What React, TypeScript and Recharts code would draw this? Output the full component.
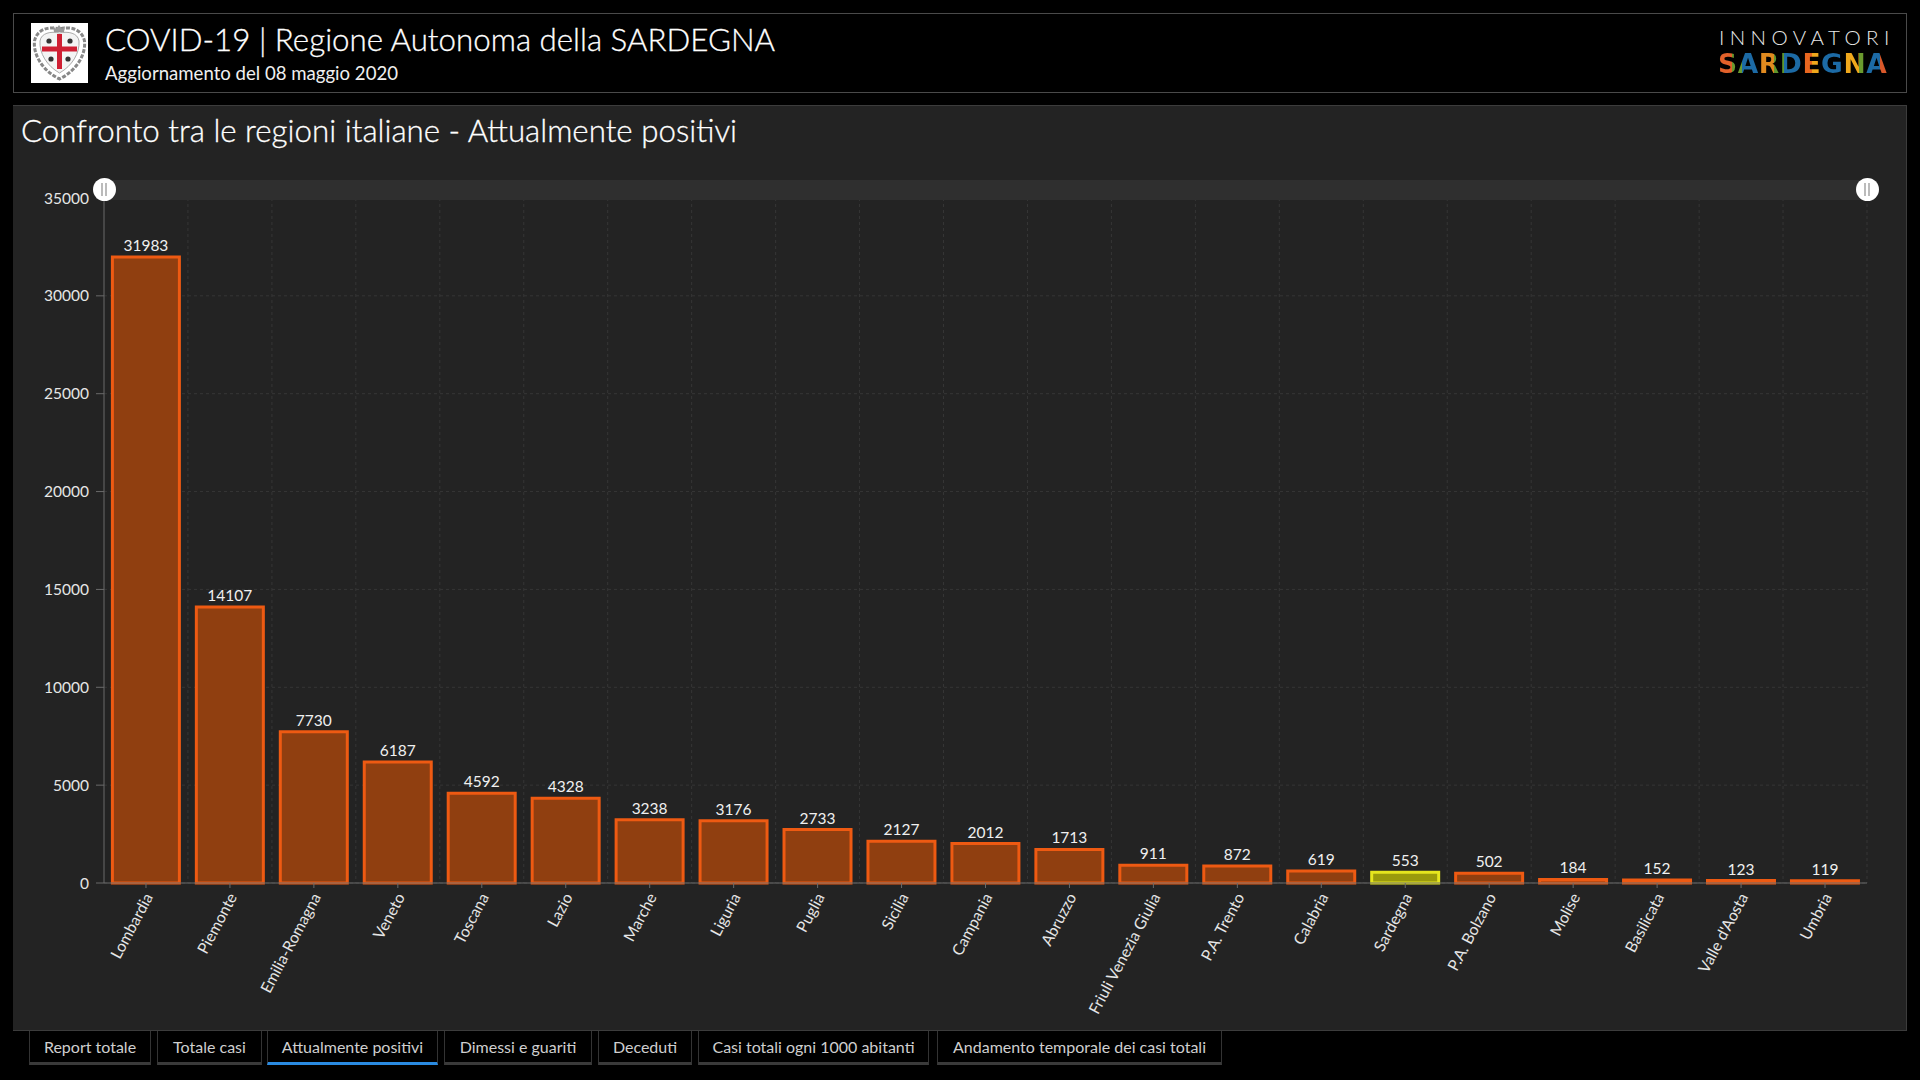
import React from "react";
import { BarChart, Bar, XAxis, YAxis, CartesianGrid, Cell, LabelList } from "recharts";

const regions = ["Lombardia","Piemonte","Emilia-Romagna","Veneto","Toscana","Lazio","Marche","Liguria","Puglia","Sicilia","Campania","Abruzzo","Friuli Venezia Giulia","P.A. Trento","Calabria","Sardegna","P.A. Bolzano","Molise","Basilicata","Valle d'Aosta","Umbria"];
const positives = [31983,14107,7730,6187,4592,4328,3238,3176,2733,2127,2012,1713,911,872,619,553,502,184,152,123,119];
const yTicks = [0,5000,10000,15000,20000,25000,30000,35000];
const highlighted = "Sardegna";
const tabs = ["Report totale","Totale casi","Attualmente positivi","Dimessi e guariti","Deceduti","Casi totali ogni 1000 abitanti","Andamento temporale dei casi totali"];
const tabSpans = [[29,151],[157,262],[267,438],[444,592],[598,692],[698,929],[937,1222]];
const activeTab = "Attualmente positivi";

const data = regions.map((region, i) => ({ region, value: positives[i] }));
const FONT = "Lato, 'Noto Sans', sans-serif";

const abs = (left: number, top: number, width: number, height: number, extra: any = {}) => ({
  position: "absolute" as const, left, top, width, height, boxSizing: "border-box" as const, ...extra,
});

const XTick = (props: any) => {
  const { x, y, payload } = props;
  return (
    <text x={0} y={0} transform={`translate(${x + 4},${y + 5}) rotate(-62)`} textAnchor="end" dominantBaseline="middle" fill="#e6e6e6" fontSize={15.7} fontFamily={FONT}>
      {payload.value}
    </text>
  );
};

const Crest = () => (
  <svg style={abs(31, 23, 57, 60, { display: "block" })} viewBox="0 0 57 60">
    <rect x="0" y="0" width="57" height="60" fill="#fff" />
    <path d="M28.5 6 C18 3 6 6 3.5 18 C2 32 12 48 28.5 56 C45 48 55 32 53.5 18 C51 6 39 3 28.5 6 Z" fill="none" stroke="#888" strokeWidth="3" strokeDasharray="4 1.5" />
    <path d="M28.5 10 C20 8 10 10 9 18 C8 30 16 43 28.5 50 C41 43 49 30 48 18 C47 10 37 8 28.5 10 Z" fill="#f4f4f4" stroke="#aaa" strokeWidth="1" />
    <path d="M26 11 h5 v12.5 h15 v5 h-15 v17.5 h-5 v-17.5 h-15 v-5 h15 Z" fill="#cf1f33" />
    <circle cx="18" cy="18" r="2.6" fill="#333" /><circle cx="39" cy="18" r="2.6" fill="#333" />
    <circle cx="20" cy="36" r="2.6" fill="#333" /><circle cx="37" cy="36" r="2.6" fill="#333" />
    <path d="M22 3 l3 3 l3 -4 l3 4 l3 -3 l-1 6 h-10 Z" fill="#999" />
  </svg>
);

const Handle = ({ cx }: { cx: number }) => (
  <div style={abs(cx - 11.5, 177.5, 23, 23, { background: "#fff", borderRadius: "50%" })}>
    <div style={abs(8.5, 5, 2, 13, { background: "#bbb" })} />
    <div style={abs(12.5, 5, 2, 13, { background: "#bbb" })} />
  </div>
);

export default function App() {
  return (
    <div style={abs(0, 0, 1920, 1080, { background: "#000", overflow: "hidden", fontFamily: FONT, color: "#fff" })}>
      {/* header */}
      <div style={abs(13, 13, 1894, 80, { border: "1px solid #4a4a4a" })} />
      <Crest />
      <div style={{ position: "absolute", left: 105, top: 18, fontSize: 31.3, lineHeight: "42px", whiteSpace: "nowrap", color: "#fff", fontWeight: 300, WebkitTextStroke: "0.3px #fff" }}>COVID-19 | Regione Autonoma della SARDEGNA</div>
      <div style={{ position: "absolute", left: 105, top: 61, fontSize: 18.6, lineHeight: "24px", whiteSpace: "nowrap", color: "#f0f0f0" }}>Aggiornamento del 08 maggio 2020</div>
      <div style={{ position: "absolute", left: 1719, top: 26, fontSize: 20.5, lineHeight: "22px", letterSpacing: "5.4px", fontWeight: 300, whiteSpace: "nowrap", color: "#e8e8e8" }}>INNOVATORI</div>
      <div style={{ position: "absolute", left: 1718, top: 51, width: 174, fontSize: 26.5, lineHeight: "26px", fontWeight: 700, fontFamily: "'DejaVu Sans', sans-serif", whiteSpace: "nowrap",
        background: "linear-gradient(90deg,#e2612a 0 8%,#6a9a2e 8% 14%,#1c6aa5 14% 24%,#e08a1f 24% 32%,#5f962c 32% 38%,#1c6aa5 38% 48%,#e8661f 48% 54%,#f0a81c 54% 60%,#1c6aa5 60% 73%,#f0a81c 73% 81%,#6a9a2e 81% 85%,#1c6aa5 85% 93%,#d9582a 93% 100%)",
        WebkitBackgroundClip: "text", backgroundClip: "text", color: "transparent", letterSpacing: "0.6px" }}>SARDEGNA</div>

      {/* panel */}
      <div style={abs(13, 105, 1894, 926, { background: "#232323", borderTop: "1px solid #3c3c3c", borderBottom: "1px solid #3c3c3c", borderRight: "1px solid #3c3c3c" })} />
      <div style={{ position: "absolute", left: 21, top: 109, fontSize: 31.3, lineHeight: "42px", whiteSpace: "nowrap", color: "#fff", fontWeight: 300, WebkitTextStroke: "0.3px #fff" }}>Confronto tra le regioni italiane - Attualmente positivi</div>

      {/* chart */}
      <div style={abs(0, 0, 1920, 1080)}>
        <BarChart width={1920} height={1080} data={data} margin={{ top: 198, right: 53, bottom: 47, left: 44 }} barCategoryGap="10%">
          <CartesianGrid stroke="#363636" strokeDasharray="3 3"
            verticalCoordinatesGenerator={({ offset }: any) => regions.map((_, i) => offset.left + ((i + 1) * offset.width) / regions.length)} />
          <XAxis dataKey="region" interval={0} height={150} tick={<XTick />} tickSize={5} stroke="#6a6a6a" tickLine={{ stroke: "#6a6a6a" }} axisLine={{ stroke: "#6a6a6a" }} />
          <YAxis width={60} domain={[0, 35000]} ticks={yTicks} interval={0} tickSize={8} tickMargin={7} tick={{ fill: "#e6e6e6", fontSize: 15.5, fontFamily: FONT }} tickLine={{ stroke: "#6a6a6a" }} axisLine={{ stroke: "#6a6a6a" }} />
          <Bar dataKey="value" isAnimationActive={false} strokeWidth={3}>
            {data.map((d) => (
              <Cell key={d.region} fill={d.region === highlighted ? "#9b9b0c" : "#903f10"} stroke={d.region === highlighted ? "#e6e61e" : "#ee5a12"} />
            ))}
            <LabelList dataKey="value" position="top" offset={6} fill="#f0f0f0" fontSize={15.5} fontFamily={FONT} />
          </Bar>
        </BarChart>
      </div>

      {/* slider */}
      <div style={abs(104, 180, 1763, 20, { background: "#2f2f2f" })} />
      <Handle cx={104} />
      <Handle cx={1867} />

      {/* tabs */}
      {tabs.map((t, i) => {
        const [a, b] = tabSpans[i];
        const active = t === activeTab;
        return (
          <div key={t} style={abs(a, 1031, b - a, 34, {
            borderLeft: "1px solid #333", borderRight: "1px solid #333",
            borderBottom: active ? "3px solid #2a8ae0" : "3px solid #3a3a3a",
            color: "#cfcfcf", fontSize: 16, lineHeight: "31px", textAlign: "center", whiteSpace: "nowrap",
          })}>{t}</div>
        );
      })}
    </div>
  );
}
